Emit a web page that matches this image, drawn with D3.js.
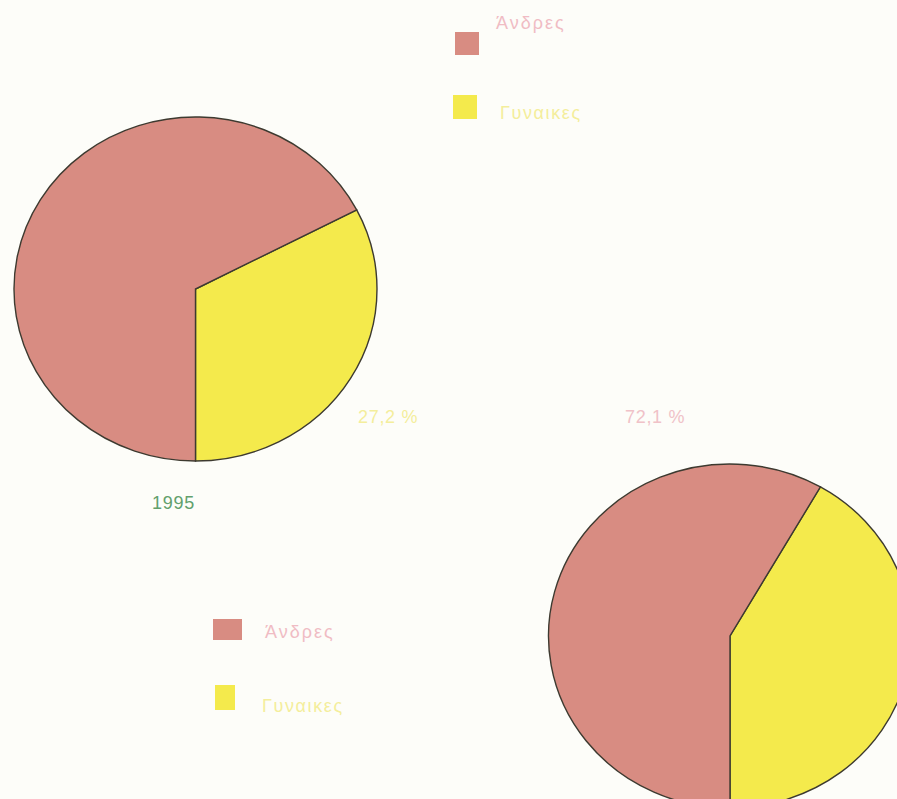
<!DOCTYPE html>
<html>
<head>
<meta charset="utf-8">
<script src="https://cdn.jsdelivr.net/npm/d3@7"></script>
<style>
body { margin: 0; background: #fdfdf9; }
svg { display: block; }
text { font-family: "Liberation Sans", Arial, sans-serif; }
</style>
</head>
<body>
<div id="chart"></div>
<script>
// Categories and values (slice shares)
var categories = ["Γυναικες", "Άνδρες"];
var pie1995 = [32.6, 67.4];
var pie2 = [41.7, 58.3];
var pctLabels = ["27,2 %", "72,1 %"];
var yearLabel = "1995";

var width = 897, height = 799;

var svg = d3.select("#chart")
  .append("svg")
  .attr("width", width)
  .attr("height", height);

svg.append("rect")
  .attr("width", width).attr("height", height)
  .attr("fill", "#fdfdf9");

var color = d3.scaleOrdinal()
  .domain(categories)
  .range(["#f4ea4c", "#d88c82"]);

var textColor = d3.scaleOrdinal()
  .domain(categories)
  .range(["#f4ee9c", "#f0bcc4"]);

var rx = 181.5, ry = 172;
var arc = d3.arc().innerRadius(0).outerRadius(rx);

function drawPie(vals, cx, cy) {
  var total = d3.sum(vals);
  // women slice ends at 6 o'clock
  var pie = d3.pie().sort(null)
    .startAngle(Math.PI - 2 * Math.PI * vals[0] / total)
    .endAngle(3 * Math.PI - 2 * Math.PI * vals[0] / total);
  var data = categories.map(function(c, i) { return {key: c, value: vals[i]}; });
  var g = svg.append("g")
    .attr("transform", "translate(" + cx + "," + cy + ") scale(1," + (ry / rx) + ")");
  g.selectAll("path")
    .data(pie.value(function(d) { return d.value; })(data))
    .enter().append("path")
    .attr("d", arc)
    .attr("fill", function(d) { return color(d.data.key); })
    .attr("stroke", "#3d3a30")
    .attr("stroke-width", 1.4)
    .attr("vector-effect", "non-scaling-stroke");
}

drawPie(pie1995, 195.5, 289);
drawPie(pie2, 730, 636);

// Legends
function drawLegend(items) {
  var lg = svg.selectAll(null)
    .data(items)
    .enter().append("g");
  lg.append("rect")
    .attr("x", function(d) { return d.sx; })
    .attr("y", function(d) { return d.sy; })
    .attr("width", function(d) { return d.sw; })
    .attr("height", function(d) { return d.sh; })
    .attr("fill", function(d) { return color(d.key); });
  lg.append("text")
    .attr("x", function(d) { return d.tx; })
    .attr("y", function(d) { return d.ty; })
    .attr("font-size", 18)
    .attr("letter-spacing", function(d) { return d.key === categories[1] ? 2 : 1.6; })
    .attr("fill", function(d) { return textColor(d.key); })
    .text(function(d) { return d.key; });
}

drawLegend([
  {key: categories[1], sx: 455, sy: 32, sw: 24, sh: 23, tx: 496, ty: 29},
  {key: categories[0], sx: 453, sy: 95, sw: 24, sh: 24, tx: 500, ty: 119}
]);
drawLegend([
  {key: categories[1], sx: 213, sy: 619, sw: 29, sh: 21, tx: 265, ty: 638},
  {key: categories[0], sx: 215, sy: 685, sw: 20, sh: 25, tx: 262, ty: 712}
]);

// Percentage labels
svg.selectAll(".pct")
  .data(pctLabels)
  .enter().append("text")
  .attr("class", "pct")
  .attr("x", function(d, i) { return i === 0 ? 358 : 625; })
  .attr("y", 423)
  .attr("font-size", 18)
  .attr("letter-spacing", 0.7)
  .attr("fill", function(d, i) { return i === 0 ? "#f4ee9c" : "#f0c2c8"; })
  .text(function(d) { return d; });

svg.append("text")
  .attr("x", 152)
  .attr("y", 509)
  .attr("font-size", 18)
  .attr("letter-spacing", 0.7)
  .attr("fill", "#62a06c")
  .text(yearLabel);
</script>
</body>
</html>
